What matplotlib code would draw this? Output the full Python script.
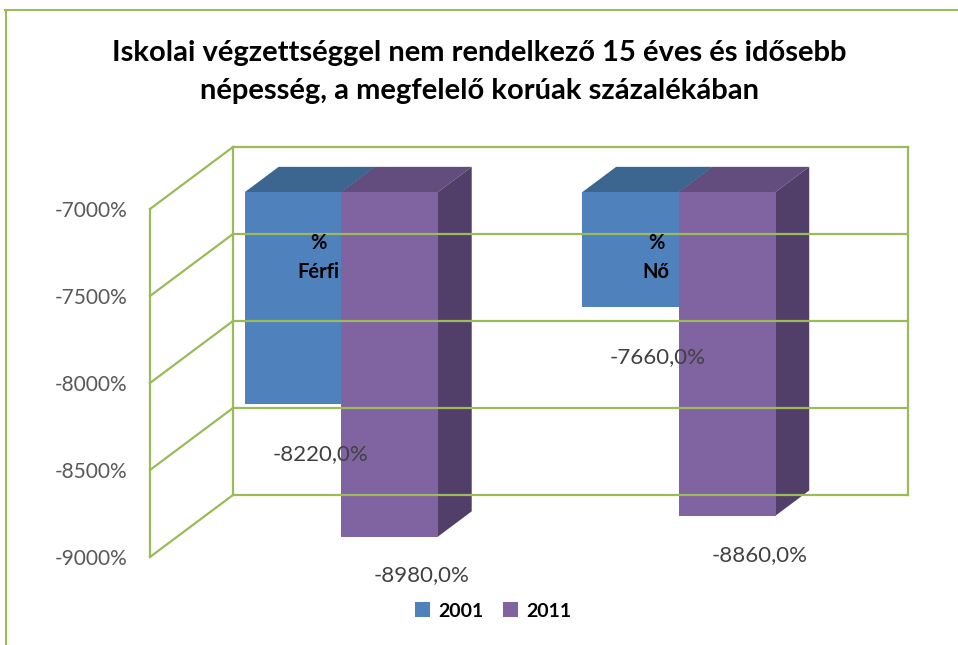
import matplotlib
matplotlib.use("Agg")
import matplotlib.pyplot as plt
from matplotlib.patches import Polygon, Patch
from matplotlib.lines import Line2D

plt.rcParams['font.family'] = ['Lato', 'DejaVu Sans']

# ---- data ----
categories = ["%\nFérfi", "%\nNő"]
years = ["2001", "2011"]
values_2001 = [-8220.0, -7660.0]
values_2011 = [-8980.0, -8860.0]
y_ticks = [-9000, -8500, -8000, -7500, -7000]
title = "Iskolai végzettséggel nem rendelkező 15 éves és idősebb\nnépesség, a megfelelő korúak százalékában"

# ---- style ----
GRID = "#9BBB59"
FRONT = ["#4F81BD", "#8064A2"]
TOP = ["#3C6590", "#634C7E"]
SIDE = ["#2F4F73", "#513F69"]

W, H = 958, 645
fig = plt.figure(figsize=(W / 100, H / 100), dpi=100)
fig.patch.set_facecolor("white")

# outer chart frame (partly cropped in reference)
fig.add_artist(Line2D([5 / W, 1.0], [1 - 10 / H, 1 - 10 / H], color=GRID, lw=1.5))
fig.add_artist(Line2D([6 / W, 6 / W], [0, 1 - 10 / H], color=GRID, lw=1.5))

ax = fig.add_axes([150 / W, (H - 557) / H, 675 / W, 348 / H])
ax.set_xlim(-0.5, len(categories) - 0.5)
ymin, ymax = min(y_ticks), max(y_ticks)
ax.set_ylim(ymin, ymax)
for s in ax.spines.values():
    s.set_visible(False)
ax.set_xticks([])
ax.set_yticks(y_ticks)
ax.set_yticklabels([f"{t}%" for t in y_ticks], fontsize=15, color="#595959")
ax.tick_params(axis="y", length=0, pad=16)

# depth direction: pixel offsets for full depth converted to data units
x0, x1 = ax.get_xlim()
px_per_x = 675 / (x1 - x0)
px_per_y = 348 / (ymax - ymin)
DX = 83 / px_per_x
DY = 62 / px_per_y


def P(x, y, z):
    return (x + z * DX, y + z * DY)


# walls & gridlines
xl, xr = x0, x1
for v in y_ticks:
    ax.add_line(Line2D(*zip(P(xl, v, 1), P(xr, v, 1)), color=GRID, lw=1.6, clip_on=False))
    ax.add_line(Line2D(*zip(P(xl, v, 0), P(xl, v, 1)), color=GRID, lw=1.6, clip_on=False))
for (xx, z) in [(xl, 0), (xl, 1), (xr, 1)]:
    ax.add_line(Line2D(*zip(P(xx, ymin, z), P(xx, ymax, z)), color=GRID, lw=1.6, clip_on=False))

# bars
bw = 0.286
z0, z1 = 0.274, 0.68
series = [values_2001, values_2011]
for ci in range(len(categories)):
    for si, vals in enumerate(series):
        v = vals[ci]
        left = ci - bw + si * bw
        right = left + bw
        top = ymax
        # top face
        ax.add_patch(Polygon([P(left, top, z0), P(right, top, z0), P(right, top, z1), P(left, top, z1)],
                             closed=True, facecolor=TOP[si], edgecolor="none", clip_on=False))
        # side face
        ax.add_patch(Polygon([P(right, top, z0), P(right, v, z0), P(right, v, z1), P(right, top, z1)],
                             closed=True, facecolor=SIDE[si], edgecolor="none", clip_on=False))
        # front face
        ax.add_patch(Polygon([P(left, top, z0), P(right, top, z0), P(right, v, z0), P(left, v, z0)],
                             closed=True, facecolor=FRONT[si], edgecolor="none", clip_on=False))

# data labels
lab_dx = [27 / px_per_x, 32 / px_per_x]
lab_dy = [50 / px_per_y, 39 / px_per_y]
for ci in range(len(categories)):
    for si, vals in enumerate(series):
        v = vals[ci]
        cx = ci - bw / 2 + si * bw
        x, y = P(cx, v, z0)
        ax.text(x + lab_dx[si], y - lab_dy[si], f"{v:.1f}%".replace(".", ","),
                ha="center", va="center", fontsize=16, color="#404040", clip_on=False)

# category labels
for ci, c in enumerate(categories):
    ax.text(ci, ymax - 280, c, ha="center", va="center", fontsize=14.5,
            fontweight="bold", color="black", linespacing=1.55, clip_on=False)

# title
fig.text(0.5, 1 - 72 / H, title, ha="center", va="center", fontsize=21,
         fontweight="bold", color="black", linespacing=1.55)

# legend
handles = [Patch(facecolor=FRONT[i], edgecolor="none") for i in range(2)]
fig.legend(handles, years, loc="center", bbox_to_anchor=(493 / W, 1 - 611 / H), ncol=2,
           frameon=False, prop={"size": 14, "weight": "bold"}, handlelength=0.8,
           handleheight=0.8, handletextpad=0.4, columnspacing=1.0)

fig.savefig("out.png", dpi=100)
